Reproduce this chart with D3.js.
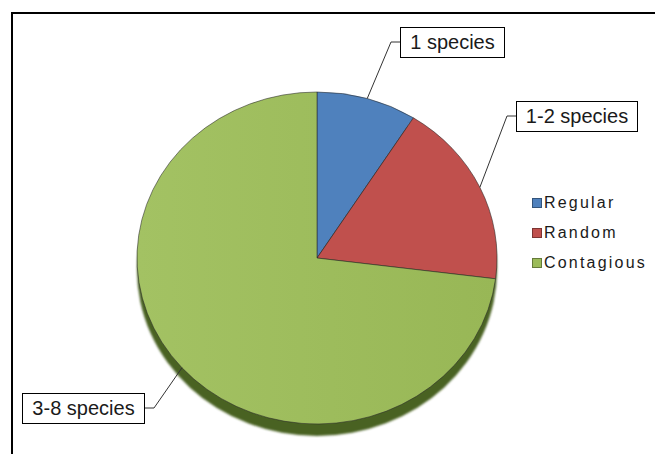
<!DOCTYPE html>
<html><head><meta charset="utf-8">
<script src="https://cdn.jsdelivr.net/npm/d3@7"></script>
<style>html,body{margin:0;padding:0;background:#fff;}svg{display:block;}</style>
</head><body>
<svg id="c" width="655" height="454"></svg>
<script>
const categories = ["Regular", "Random", "Contagious"];
const values = [9, 18, 73];
const dataLabels = ["1 species", "1-2 species", "3-8 species"];
const colors = ["#4f81bd", "#c0504d", "#9bbb59"];

const svg = d3.select("#c");
const W = 655, H = 454;
// frame (top and left visible)
svg.append("path").attr("d", `M12,${H} L12,13 L${W},13`).attr("fill","none").attr("stroke","#000").attr("stroke-width",2);

const cx = 317, cy = 258, rx = 180, ry = 166;
const defs = svg.append("defs");
const f = defs.append("filter").attr("id","blur").attr("x","-10%").attr("y","-10%").attr("width","120%").attr("height","120%");
f.append("feGaussianBlur").attr("stdDeviation",1.2);
const g1 = defs.append("linearGradient").attr("id","gg").attr("x1","0").attr("x2","1").attr("y1","0").attr("y2","0");
g1.append("stop").attr("offset","0").attr("stop-color","#a3c263");
g1.append("stop").attr("offset","1").attr("stop-color","#98b756");

const pie = d3.pie().sort(null).value(d => d)(values);
const arc = d3.arc().innerRadius(0).outerRadius(rx);
const sy = ry / rx;

// shadow / depth
svg.append("ellipse").attr("cx", cx).attr("cy", cy + 12).attr("rx", rx).attr("ry", ry)
  .attr("fill", "#4a6224").attr("filter","url(#blur)");

const pg = svg.append("g").attr("transform", `translate(${cx},${cy}) scale(1,${sy})`);
pg.selectAll("path").data(pie).join("path")
  .attr("d", arc)
  .attr("fill", (d,i) => i === 2 ? "url(#gg)" : colors[i])
  .attr("stroke", "rgba(40,40,40,0.7)")
  .attr("stroke-width", 0.8)
  .attr("vector-effect", "non-scaling-stroke");

// data labels
const boxes = [
  {x:400, y:27, w:104, h:30, side:"left"},
  {x:516, y:101, w:121, h:30, side:"left"},
  {x:22, y:393, w:122, h:30, side:"right"}
];
pie.forEach((d, i) => {
  const a = (d.startAngle + d.endAngle) / 2;
  const px = cx + rx * Math.sin(a), py = cy - ry * Math.cos(a);
  const b = boxes[i];
  const my = b.y + b.h / 2;
  const ex = b.side === "left" ? b.x : b.x + b.w;
  const kx = b.side === "left" ? ex - 9 : ex + 10;
  svg.append("path").attr("d", `M${px},${py} L${kx},${my} L${ex},${my}`)
    .attr("fill","none").attr("stroke","#333").attr("stroke-width",1);
  svg.append("rect").attr("x", b.x + 0.5).attr("y", b.y + 0.5).attr("width", b.w).attr("height", b.h)
    .attr("fill","#fff").attr("stroke","#000").attr("stroke-width",1);
  svg.append("text").attr("x", b.x + b.w/2 + 0.5).attr("y", b.y + 22)
    .attr("text-anchor","middle").attr("font-family","'Liberation Sans', Arial, sans-serif")
    .attr("font-size", 20).attr("fill","#1a1a1a").text(dataLabels[i]);
});

// legend
const lg = svg.append("g");
categories.forEach((c, i) => {
  const by = 208 + i * 30;
  lg.append("rect").attr("x", 532.5).attr("y", by - 9.5).attr("width", 9).attr("height", 9)
    .attr("fill", colors[i]).attr("stroke", d3.color(colors[i]).darker(1.2)).attr("stroke-width", 1);
  lg.append("text").attr("x", 544).attr("y", by)
    .attr("font-family","'Liberation Sans', Arial, sans-serif").attr("font-size", 16)
    .attr("letter-spacing", 2.2).attr("fill","#1a1a1a").text(c);
});
</script>
</body></html>
